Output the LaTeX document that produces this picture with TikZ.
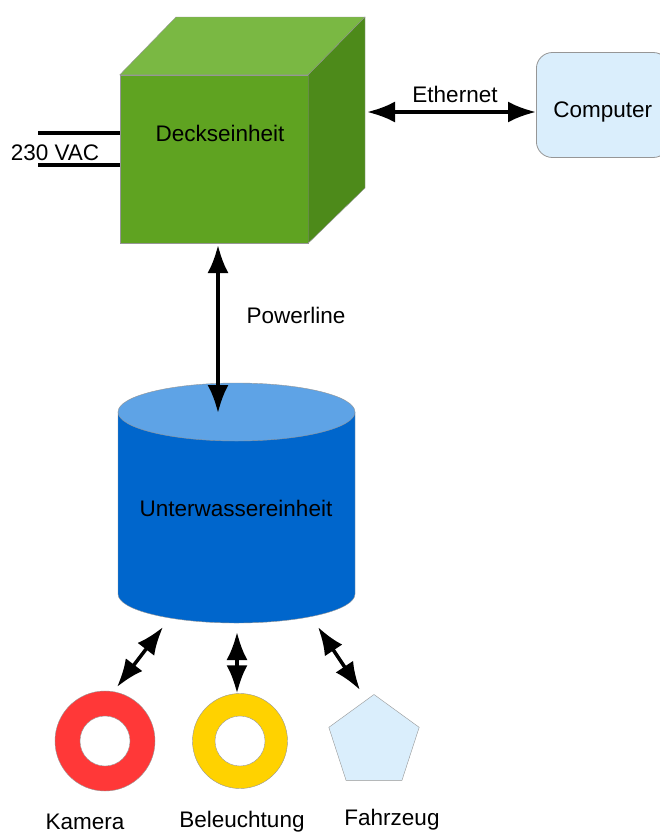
\documentclass[tikz,border=0pt]{standalone}
\usepackage{fontspec}
\setmainfont{Liberation Sans}
\usetikzlibrary{arrows.meta,shapes.geometric}
\definecolor{cubefrontc}{RGB}{95,163,33}
\definecolor{cubetopc}{RGB}{122,184,67}
\definecolor{cubesidec}{RGB}{77,138,26}
\definecolor{cylbodyc}{RGB}{0,102,204}
\definecolor{cyltopc}{RGB}{94,163,230}
\definecolor{paleblue}{RGB}{218,238,252}
\definecolor{ringred}{RGB}{255,56,56}
\definecolor{ringgold}{RGB}{255,210,0}
\definecolor{edgegray}{RGB}{150,150,150}
\tikzset{
  biarrow/.style={line width=3.5pt,{Latex[length=28pt,width=21pt]}-{Latex[length=28pt,width=21pt]}},
  ring/.style={circle,minimum size=100pt,inner sep=0pt,fill=#1,draw=edgegray,thin,
    path picture={\draw[edgegray,fill=white] (path picture bounding box.center) circle[radius=25pt];}},
  lbl/.style={font=\fontsize{22.5}{26}\selectfont,inner sep=0pt}
}
\begin{document}
\begin{tikzpicture}[x=1pt,y=-1pt]
      \clip (0,0) rectangle (660,835);
      \fill[white] (0,0) rectangle (660,835);
      % Deckseinheit
      \node[fill=cubefrontc,draw=edgegray,thin,minimum width=188pt,minimum height=168pt,inner sep=0pt] (deck) at (214,159) {};
      \filldraw[fill=cubetopc,draw=edgegray,thin] (deck.north west) -- (176,17) -- (365,17) -- (deck.north east) -- cycle;
      \filldraw[fill=cubesidec,draw=edgegray,thin] (deck.north east) -- (365,17) -- (365,188) -- (deck.south east) -- cycle;
      \node[lbl] (decktext) at (220,133) {Deckseinheit};
      \coordinate (ac1) at (38,133);
      \coordinate (ac2) at (38,165);
      \draw[line width=3.5pt] (ac1) -- (ac1 -| deck.west);
      \draw[line width=3.5pt] (ac2) -- (ac2 -| deck.west);
      \node[lbl] (vac) at (55,153) {230 VAC};
      % Computer
      \node[lbl,anchor=west,fill=paleblue,draw=edgegray,thick,rounded corners=16pt,inner xsep=17pt,
        text height=25pt,text depth=0pt,minimum height=105pt] (computer) at (536,105) {Computer};
      \coordinate (eth) at (367,112);
      \draw[biarrow] (eth) -- (eth -| computer.west);
      \node[lbl] (ethtext) at (455,94) {Ethernet};
      % Unterwassereinheit
      \fill[cylbodyc] (118,412) -- (118,594) arc[start angle=180,end angle=0,x radius=118.5,y radius=29] -- (355,412) -- cycle;
      \draw[edgegray,thin] (118,412) -- (118,594) arc[start angle=180,end angle=0,x radius=118.5,y radius=29] -- (355,412);
      \filldraw[fill=cyltopc,draw=edgegray,thin] (236.5,412) ellipse[x radius=118.5,y radius=29];
      \node[lbl] (unter) at (236,508) {Unterwassereinheit};
      \coordinate (pl) at (218,245);
      \coordinate (cyltop) at (218,413);
      \draw[biarrow] (pl) -- (cyltop);
      \node[lbl] (powertext) at (296,315) {Powerline};
      % Geraete
      \node[ring=ringred] (kamera) at (105,741) {};
      \node[ring=ringgold,minimum size=95pt] (beleuchtung) at (240,741) {};
      \node[regular polygon,regular polygon sides=5,minimum size=95pt,inner sep=0pt,fill=paleblue,draw=edgegray,thin] (fahrzeug) at (374,742) {};
      \coordinate (uw1) at (163,627);
      \coordinate (uw2) at (237,632);
      \coordinate (uw3) at (318,627);
      \coordinate (k1) at (117,687);
      \coordinate (f1) at (360,690);
      \draw[biarrow] (uw1) -- (k1);
      \draw[biarrow] (uw2) -- (uw2 |- beleuchtung.north);
      \draw[biarrow] (uw3) -- (f1);
      \node[lbl] (kameratext) at (85,822) {Kamera};
      \node[lbl] (beltext) at (242,822) {Beleuchtung};
      \node[lbl] (fahrtext) at (392,820) {Fahrzeug};
\end{tikzpicture}
\end{document}
